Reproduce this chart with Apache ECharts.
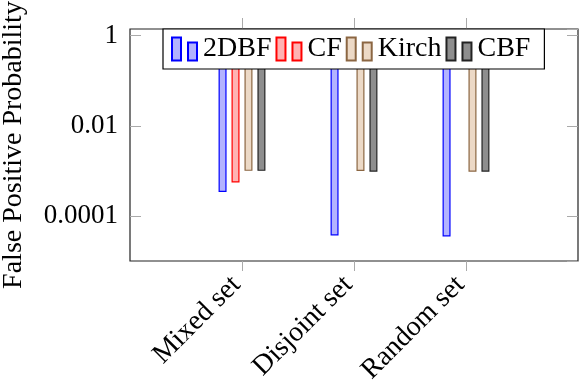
<!DOCTYPE html>
<html>
<head>
<meta charset="utf-8">
<script src="https://cdn.jsdelivr.net/npm/echarts@6/dist/echarts.min.js"></script>
<style>
  html, body { margin: 0; padding: 0; background: #fff; }
  #main { width: 580px; height: 382px; }
</style>
</head>
<body>
<div id="main"></div>
<script>
// data
var categories = ['Mixed set', 'Disjoint set', 'Random set'];
var seriesNames = ['2DBF', 'CF', 'Kirch', 'CBF'];
var dbf2 = [3.4e-4, 3.7e-5, 3.5e-5];
var cf = [5.5e-4, null, null];
var kirch = [1.0e-3, 9.9e-4, 9.6e-4];
var cbf = [1.0e-3, 9.6e-4, 9.6e-4];
var yTicks = [1, 0.01, 0.0001];

var fills = ['#b3b3ff', '#ffb3b3', '#ecd9c6', '#8e8e8e'];
var borders = ['#0000ff', '#ff0000', '#8b6642', '#222222'];
var font = 'Liberation Serif';

// empty slot on each side so the groups sit at 1/4, 2/4, 3/4 of the width
var cats = [''].concat(categories, ['']);
function pad(arr) {
  return ['-'].concat(arr.map(function (v) { return v == null ? '-' : v; }), ['-']);
}
function onlyReal(i) { return i > 0 && i < cats.length - 1; }

var chart = echarts.init(document.getElementById('main'), null, { renderer: 'canvas' });

var option = {
  animation: false,
  backgroundColor: '#fff',
  textStyle: { fontFamily: font },
  grid: {
    left: 130, right: 2, top: 29, bottom: 121,
    outerBoundsMode: 'none',
    containLabel: false,
    show: true, borderColor: '#222', borderWidth: 1.2, backgroundColor: 'transparent'
  },
  legend: {
    left: 163, top: 29,
    padding: [6, 14, 6, 8],
    itemGap: 4,
    itemWidth: 25, itemHeight: 23,
    icon: 'path://M0,0h9v23h-9z M16,5h9v18h-9z',
    backgroundColor: '#fff',
    borderColor: '#000', borderWidth: 1.2, borderRadius: 0,
    textStyle: { fontFamily: font, fontSize: 28, color: '#000', padding: [0, 0, 0, 1] },
    data: seriesNames
  },
  xAxis: [{
    type: 'category',
    data: cats,
    boundaryGap: false,
    axisLine: { show: false },
    axisTick: { show: true, inside: false, length: 10, interval: onlyReal, lineStyle: { color: '#aaa', width: 1 } },
    axisLabel: {
      interval: onlyReal, rotate: 45, margin: 14,
      padding: [0, 8, 0, 0],
      fontFamily: font, fontSize: 28, color: '#000'
    },
    splitLine: { show: false }
  }, {
    type: 'category',
    data: cats,
    boundaryGap: false,
    position: 'top',
    axisLine: { show: false },
    axisTick: { show: true, inside: false, length: 11, interval: onlyReal, lineStyle: { color: '#aaa', width: 1 } },
    axisLabel: { show: false },
    splitLine: { show: false }
  }],
  yAxis: [{
    type: 'log',
    logBase: 100,
    min: 1e-5, max: 1.4,
    name: 'False Positive Probability',
    nameLocation: 'middle',
    nameRotate: 90,
    nameGap: 102,
    nameTextStyle: { fontFamily: font, fontSize: 28, color: '#000' },
    axisLine: { show: false },
    axisTick: { show: true, inside: true, length: 11, lineStyle: { color: '#aaa', width: 1 } },
    axisLabel: {
      margin: 12, fontFamily: font, fontSize: 27, color: '#000',
      showMinLabel: false, showMaxLabel: false,
      formatter: function (v) {
        var r = Number(v.toPrecision(3));
        return yTicks.indexOf(r) >= 0 ? String(r) : '';
      }
    },
    splitLine: { show: false }
  }, {
    type: 'log',
    logBase: 100,
    min: 1e-5, max: 1.4,
    position: 'right',
    axisLine: { show: false },
    axisTick: { show: true, inside: true, length: 11, lineStyle: { color: '#aaa', width: 1 } },
    axisLabel: { show: false },
    splitLine: { show: false }
  }],
  series: [dbf2, cf, kirch, cbf].map(function (vals, i) {
    return {
      name: seriesNames[i],
      type: 'bar',
      xAxisIndex: 0, yAxisIndex: 0,
      barWidth: 8,
      barGap: '62%',
      data: pad(vals),
      itemStyle: { color: fills[i], borderColor: borders[i], borderWidth: 1.2 }
    };
  })
};

chart.setOption(option);
</script>
</body>
</html>
